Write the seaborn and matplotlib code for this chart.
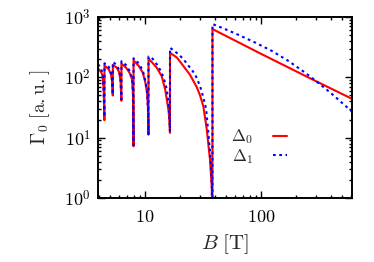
import matplotlib
matplotlib.use("Agg")
import matplotlib.pyplot as plt
import seaborn as sns

# field B [T] and Gamma_0 [a.u.], one list per curve
b_delta0 = [3.93, 4.18, 4.31, 4.40, 4.46,
            4.47, 4.86, 5.09, 5.20, 5.27,
            5.28, 5.70, 6.00, 6.15, 6.25,
            6.26, 6.85, 7.33, 7.73, 7.88, 7.95,
            7.96, 8.83, 9.55, 10.06, 10.4, 10.6, 10.7,
            10.71, 11.0, 12.6, 13.9, 14.9, 15.4, 15.9, 16.2, 16.4,
            16.41, 18.8, 21.4, 24.4, 27.9, 29.8, 31.8, 34.0, 36.3, 37.6, 38.1,
            38.12, 100, 263, 608]
g_delta0 = [140, 123, 105, 60, 19.5,
            158, 136, 112, 85, 50,
            160, 145, 120, 85, 41,
            168, 145, 120, 93, 50, 7.2,
            190, 154, 120, 82, 56, 30, 11.2,
            205, 194, 145, 105, 63, 43, 29, 20, 12,
            255, 213, 154, 110, 69, 50, 33, 14, 4.3, 1.5, 0.3,
            631, 245, 97, 44]

b_delta1 = [3.93, 4.18, 4.31, 4.40, 4.46,
            4.47, 4.86, 5.09, 5.20, 5.27,
            5.28, 5.70, 6.00, 6.15, 6.25,
            6.26, 6.85, 7.33, 7.73, 7.88, 7.95,
            7.96, 8.83, 9.55, 10.06, 10.4, 10.6, 10.7,
            10.71, 11.4, 12.6, 13.7, 14.6, 15.4, 15.9, 16.2, 16.4,
            16.41, 19.4, 21.4, 24.4, 27.0, 29.8, 31.8, 33.6, 36.3, 37.6, 38.1,
            38.12, 48.9, 63.7, 88.7, 124, 172, 239, 284, 395, 608]
g_delta1 = [165, 140, 112, 60, 22,
            171, 150, 120, 88, 52,
            180, 160, 130, 90, 43,
            185, 160, 130, 98, 52, 7.5,
            207, 170, 130, 88, 58, 31, 11.5,
            221, 213, 165, 127, 93, 63, 38, 22, 12.5,
            310, 242, 200, 145, 112, 72, 46, 30, 6, 1.8, 0.3,
            765, 631, 507, 378, 274, 187, 120, 93, 56, 27]

sns.set_style("ticks")
plt.rcParams["mathtext.fontset"] = "cm"
plt.rcParams["font.family"] = ["DejaVu Serif"]

fig = plt.figure(figsize=(3.74, 2.62), dpi=100)
ax = fig.add_axes([98 / 374, 1 - 198 / 262, 254 / 374, 181 / 262])

sns.lineplot(x=b_delta0, y=g_delta0, ax=ax, color="#ff0000", lw=1.5,
             estimator=None, sort=False, label=r"$\Delta_0$")
sns.lineplot(x=b_delta1, y=g_delta1, ax=ax, color="#0000ff", lw=1.5,
             linestyle=(0, (1.3, 1.7)), estimator=None, sort=False,
             label=r"$\Delta_1$")

ax.set_xscale("log")
ax.set_yscale("log")
ax.set_xlim(3.93, 608)
ax.set_ylim(1, 1000)

ax.set_xticks([10, 100], [r"$10$", r"$100$"])
ax.set_xticks([4, 5, 6, 7, 8, 9, 20, 30, 40, 50, 60, 70, 80, 90,
               200, 300, 400, 500, 600], minor=True)
ax.set_yticks([1, 10, 100, 1000],
              [r"$10^{0}$", r"$10^{1}$", r"$10^{2}$", r"$10^{3}$"])
ax.set_yticks([k * 10 ** e for e in range(3) for k in range(2, 10)],
              minor=True)
ax.xaxis.set_minor_formatter(plt.NullFormatter())
ax.yaxis.set_minor_formatter(plt.NullFormatter())

ax.tick_params(which="both", direction="in", top=True, right=True,
               width=1.0, colors="black", labelsize=13)
ax.tick_params(which="major", length=5)
ax.tick_params(which="minor", length=2.5)
ax.tick_params(axis="x", pad=7)
ax.tick_params(axis="y", pad=5)
for s in ax.spines.values():
    s.set_linewidth(1.4)
    s.set_color("black")

ax.set_xlabel(r"$B\ [\mathrm{T}]$", fontsize=15, labelpad=5)
ax.set_ylabel(r"$\Gamma_0\ [\mathrm{a.u.}]$", fontsize=14, labelpad=9)

ax.legend(loc="upper right", bbox_to_anchor=(0.745, 0.39), frameon=False,
          markerfirst=False, fontsize=12, handlelength=0.85,
          handletextpad=1.2, labelspacing=0.05, borderpad=0,
          borderaxespad=0)

fig.savefig("out.png", dpi=100)
